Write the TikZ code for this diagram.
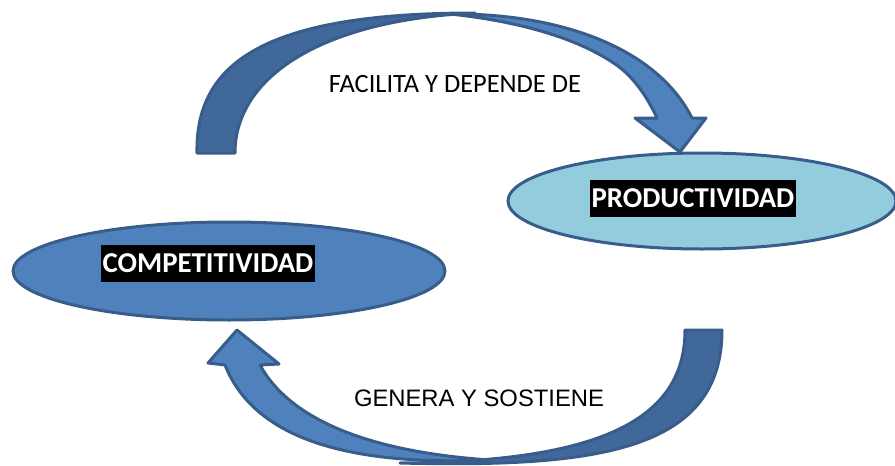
\documentclass[tikz,border=0pt]{standalone}
\usepackage{fontspec}
\setmainfont{Carlito}
\newfontfamily\arialfont{Liberation Sans}
\usetikzlibrary{shapes.geometric,positioning}
\definecolor{accblue}{HTML}{4F81BD}
\definecolor{accdark}{HTML}{41689A}
\definecolor{accedge}{HTML}{385D8A}
\definecolor{accaqua}{HTML}{93CDDD}
\tikzset{bubble/.style={ellipse,draw=accedge,line width=3pt,inner sep=0pt}}
\tikzset{tag/.style={fill=black,text=white,font=\bfseries\fontsize{28.8}{30}\selectfont,inner xsep=2pt,inner ysep=0pt,minimum height=37pt}}
\tikzset{bandlight/.style={fill=accblue,draw=accedge,line width=3pt,line join=round}}
\tikzset{banddark/.style={fill=accdark,draw=accedge,line width=3pt,line join=round}}

\begin{document}
\begin{tikzpicture}[x=1pt,y=-1pt]
\useasboundingbox (0,0) rectangle (895,466);
\node[bubble,fill=accblue,minimum width=432pt,minimum height=98pt] (comp) at (229,271) {};
\node[bubble,fill=accaqua,minimum width=388pt,minimum height=96pt] (prod) at (702,201) {};
\node[tag] (comptag) at (208,263.5) {COMPETITIVIDAD};
\node[tag] (prodtag) at (693,198.5) {PRODUCTIVIDAD};
% upper arrow
\path[bandlight] (450,14) .. controls (555,13) and (655,45) .. (692,118)
  -- (706,118) -- (680,152) -- (635,118) -- (657,118)
  .. controls (645,92) and (630,74) .. (615,64)
  .. controls (580,40) and (525,22) .. (450,14) -- cycle;
\path[banddark] (197,153) .. controls (195,60) and (270,13) .. (475,13)
  .. controls (320,20) and (235,78) .. (235,153) -- cycle;
% lower arrow
\path[banddark] (722,330) .. controls (722,450) and (600,468) .. (400,463)
  .. controls (600,462) and (685,420) .. (685,330) -- cycle;
\path[bandlight] (260,365) .. controls (290,420) and (370,452) .. (490,460)
  .. controls (370,465) and (258,448) .. (225,365)
  -- (208,363) -- (237,330) -- (279,364) -- cycle;
\node[font=\fontsize{26.4}{28}\selectfont,inner sep=0pt] (facilita) at (455,84.5) {FACILITA Y DEPENDE DE};
\node[font=\arialfont\fontsize{23.8}{25}\selectfont,inner sep=0pt] (genera) at (479,398) {GENERA Y SOSTIENE};
\end{tikzpicture}
\end{document}
